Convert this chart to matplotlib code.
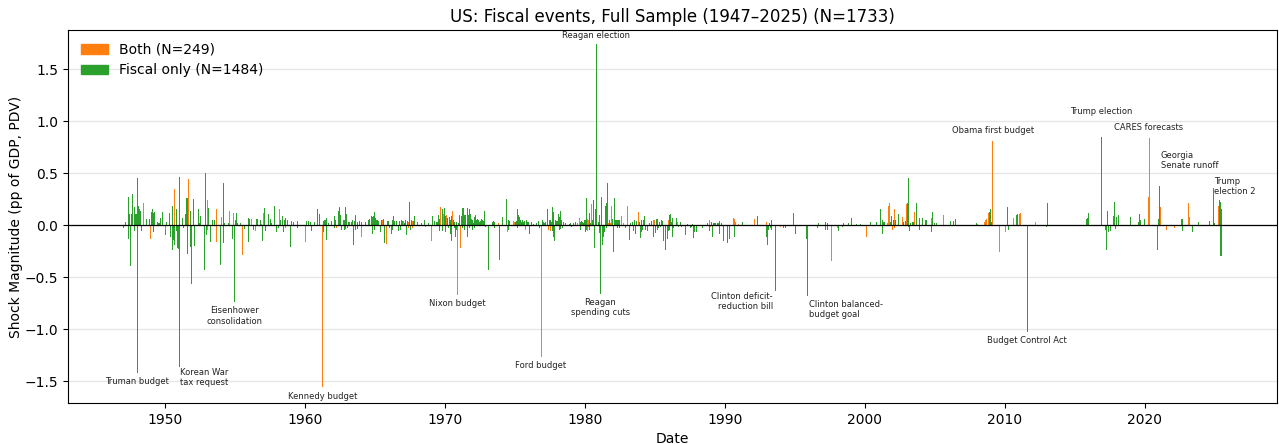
import matplotlib
matplotlib.use("Agg")
import matplotlib.pyplot as plt
from matplotlib.patches import Patch
from matplotlib.ticker import MultipleLocator
import numpy as np

# ---------------------------------------------------------------------------
# Fiscal shock events (decimal year, magnitude in pp of GDP, PDV)
# ---------------------------------------------------------------------------
fiscal_dates = [
    1947.02, 1947.21, 1947.38, 1947.40, 1947.45, 1947.52, 1947.60, 1947.67, 1947.81, 1947.83,
    1947.90, 1947.98, 1948.02, 1948.03, 1948.09, 1948.17, 1948.26, 1948.33, 1948.71, 1948.86,
    1949.02, 1949.12, 1949.19, 1949.21, 1949.26, 1949.45, 1949.57, 1949.71, 1949.81, 1950.02,
    1950.14, 1950.29, 1950.40, 1950.52, 1950.55, 1950.60, 1950.71, 1950.81, 1950.83, 1950.88,
    1950.95, 1951.02, 1951.05, 1951.24, 1951.31, 1951.45, 1951.57, 1951.60, 1951.64, 1951.79,
    1951.81, 1951.88, 1952.02, 1952.10, 1952.38, 1952.45, 1952.52, 1952.81, 1952.88, 1952.95,
    1953.10, 1953.24, 1953.38, 1953.52, 1953.95, 1954.17, 1954.19, 1954.26, 1954.52, 1954.81,
    1954.95, 1955.07, 1955.12, 1955.17, 1955.38, 1955.71, 1955.95, 1955.97, 1956.07, 1956.19,
    1956.31, 1956.50, 1956.60, 1956.79, 1956.98, 1957.12, 1957.21, 1957.38, 1957.50, 1957.62,
    1957.82, 1957.93, 1958.10, 1958.24, 1958.38, 1958.45, 1958.57, 1958.64, 1958.76, 1958.95,
    1959.02, 1959.17, 1959.45, 1959.48, 1960.12, 1960.24, 1960.38, 1960.45, 1960.67, 1960.88,
    1961.02, 1961.31, 1961.33, 1961.38, 1961.45, 1961.52, 1961.55, 1961.67, 1961.88, 1962.10,
    1962.12, 1962.17, 1962.38, 1962.45, 1962.52, 1962.60, 1962.74, 1962.81, 1962.83, 1962.88,
    1962.90, 1962.95, 1963.02, 1963.10, 1963.17, 1963.31, 1963.38, 1963.45, 1963.52, 1963.60,
    1963.62, 1963.74, 1963.76, 1963.86, 1964.07, 1964.29, 1964.57, 1964.64, 1964.74, 1964.81,
    1964.83, 1964.88, 1964.95, 1964.98, 1965.02, 1965.10, 1965.17, 1965.24, 1965.38, 1965.45,
    1965.60, 1965.67, 1965.88, 1965.95, 1966.02, 1966.17, 1966.24, 1966.26, 1966.31, 1966.38,
    1966.52, 1966.67, 1966.74, 1966.81, 1966.88, 1966.95, 1967.10, 1967.17, 1967.24, 1967.31,
    1967.45, 1967.52, 1967.60, 1967.74, 1967.81, 1968.02, 1968.31, 1968.52, 1968.81, 1969.10,
    1969.24, 1969.38, 1969.45, 1969.57, 1969.60, 1969.64, 1969.79, 1969.81, 1969.93, 1970.00,
    1970.07, 1970.21, 1970.24, 1970.29, 1970.36, 1970.38, 1970.43, 1970.45, 1970.57, 1970.64,
    1970.67, 1970.71, 1970.74, 1970.79, 1970.81, 1970.95, 1971.02, 1971.17, 1971.24, 1971.26,
    1971.31, 1971.38, 1971.40, 1971.45, 1971.60, 1971.62, 1971.67, 1971.74, 1971.76, 1971.81,
    1971.88, 1971.95, 1971.98, 1972.02, 1972.10, 1972.12, 1972.17, 1972.24, 1972.31, 1972.38,
    1972.45, 1972.52, 1972.60, 1972.67, 1972.74, 1972.81, 1972.88, 1973.10, 1973.36, 1973.43,
    1973.50, 1973.52, 1973.88, 1974.10, 1974.38, 1974.52, 1974.55, 1974.60, 1975.02, 1975.10,
    1975.17, 1975.19, 1975.24, 1975.31, 1975.38, 1975.45, 1975.52, 1975.60, 1975.67, 1975.81,
    1975.88, 1975.95, 1976.02, 1976.17, 1976.31, 1976.52, 1976.67, 1976.74, 1976.95, 1977.02,
    1977.10, 1977.17, 1977.31, 1977.45, 1977.52, 1977.60, 1977.67, 1977.69, 1977.74, 1977.76,
    1977.81, 1977.88, 1977.95, 1978.02, 1978.10, 1978.17, 1978.19, 1978.24, 1978.26, 1978.31,
    1978.38, 1978.45, 1978.60, 1978.88, 1978.95, 1979.02, 1979.17, 1979.31, 1979.67, 1979.69,
    1979.74, 1979.81, 1979.88, 1979.95, 1980.02, 1980.05, 1980.10, 1980.12, 1980.31, 1980.33,
    1980.38, 1980.52, 1980.60, 1980.67, 1980.74, 1980.82, 1980.95, 1981.02, 1981.05, 1981.10,
    1981.17, 1981.24, 1981.31, 1981.38, 1981.45, 1981.52, 1981.55, 1981.60, 1981.74, 1981.95,
    1982.02, 1982.10, 1982.17, 1982.24, 1982.31, 1982.33, 1982.38, 1982.45, 1982.47, 1982.86,
    1983.17, 1983.24, 1983.38, 1983.45, 1983.52, 1983.60, 1983.67, 1983.88, 1983.95, 1984.02,
    1984.05, 1984.10, 1984.17, 1984.24, 1984.31, 1984.45, 1984.60, 1984.74, 1984.88, 1984.90,
    1985.02, 1985.10, 1985.17, 1985.19, 1985.24, 1985.31, 1985.38, 1985.45, 1985.52, 1985.60,
    1985.74, 1985.88, 1985.98, 1986.02, 1986.05, 1986.10, 1986.17, 1986.24, 1986.26, 1986.31,
    1986.52, 1986.67, 1986.81, 1986.88, 1987.17, 1987.31, 1987.52, 1987.60, 1987.67, 1987.74,
    1987.81, 1987.95, 1988.38, 1988.74, 1988.90, 1989.02, 1989.10, 1989.17, 1989.24, 1989.31,
    1989.45, 1989.52, 1989.60, 1989.62, 1989.74, 1989.88, 1990.17, 1990.31, 1990.67, 1990.69,
    1991.24, 1992.31, 1992.98, 1993.02, 1993.10, 1993.17, 1993.24, 1993.31, 1993.33, 1993.62,
    1994.17, 1994.31, 1994.88, 1995.02, 1995.81, 1995.83, 1995.88, 1996.60, 1996.67, 1997.17,
    1997.19, 1997.31, 1997.33, 1998.10, 1998.38, 1998.45, 1998.81, 1999.02, 1999.38, 1999.67,
    2000.38, 2000.81, 2001.10, 2001.24, 2001.26, 2001.31, 2001.38, 2001.81, 2001.88, 2002.02,
    2002.17, 2002.38, 2002.74, 2002.88, 2003.02, 2003.10, 2003.12, 2003.17, 2003.24, 2003.38,
    2003.45, 2003.67, 2003.88, 2003.90, 2004.10, 2004.31, 2004.38, 2004.76, 2004.81, 2004.95,
    2005.10, 2006.10, 2006.31, 2006.45, 2008.00, 2008.86, 2008.95, 2009.02, 2010.17, 2010.24,
    2010.81, 2010.90, 2011.59, 2012.95, 2013.02, 2015.81, 2015.88, 2015.95, 2016.86, 2017.17,
    2017.24, 2017.31, 2017.38, 2017.52, 2017.74, 2017.81, 2017.88, 2017.95, 2018.10, 2018.95,
    2019.52, 2019.60, 2019.67, 2019.95, 2020.88, 2020.95, 2021.02, 2022.60, 2022.67, 2022.69,
    2023.38, 2023.60, 2023.81, 2024.60, 2024.86, 2024.95, 2025.31, 2025.38, 2025.43, 2025.50,
]
fiscal_values = [
    -0.03, 0.03, 0.27, -0.13, 0.11, -0.39, 0.11, 0.30, 0.17, -0.06,
    0.11, 0.11, 0.45, -1.42, 0.18, 0.15, 0.14, -0.06, 0.06, 0.06,
    0.13, 0.15, 0.12, -0.07, 0.13, 0.03, 0.02, 0.07, 0.13, -0.10,
    0.03, 0.12, -0.11, 0.18, -0.24, -0.14, -0.19, 0.15, -0.06, -0.22,
    -0.23, 0.46, -1.36, 0.07, -0.03, 0.11, 0.26, -0.27, -0.28, 0.14,
    -0.21, -0.57, 0.25, -0.20, 0.15, 0.02, 0.09, -0.43, 0.50, -0.10,
    0.16, -0.16, 0.05, 0.05, -0.38, 0.40, -0.17, 0.02, 0.02, -0.13,
    -0.74, 0.05, 0.12, 0.02, 0.02, -0.04, 0.07, -0.16, 0.06, 0.06,
    -0.05, 0.06, 0.06, 0.05, -0.15, 0.16, -0.06, 0.11, 0.06, 0.02,
    0.18, -0.07, -0.03, 0.05, 0.09, -0.07, 0.05, 0.07, 0.05, -0.21,
    0.04, 0.03, 0.04, -0.03, 0.04, 0.04, 0.03, -0.06, 0.03, 0.15,
    0.11, 0.04, -0.07, 0.05, 0.05, 0.07, -0.14, 0.02, 0.04, 0.09,
    -0.03, 0.05, 0.14, 0.17, 0.10, -0.05, 0.05, 0.05, -0.05, 0.17,
    -0.04, 0.11, -0.03, 0.03, 0.03, 0.03, 0.05, -0.19, 0.04, 0.10,
    -0.05, 0.03, -0.04, 0.04, 0.03, 0.03, 0.05, 0.06, 0.09, 0.08,
    -0.09, 0.09, 0.13, -0.05, 0.07, 0.05, 0.05, 0.04, -0.07, 0.05,
    0.06, -0.17, 0.04, 0.04, -0.03, -0.09, 0.05, -0.05, 0.09, 0.04,
    0.04, -0.06, 0.04, -0.05, 0.05, 0.04, 0.02, 0.05, -0.10, 0.04,
    0.22, -0.05, 0.05, 0.04, 0.09, 0.03, 0.02, 0.05, 0.02, 0.09,
    0.04, 0.03, 0.03, 0.10, -0.06, 0.06, 0.15, -0.06, 0.16, 0.09,
    -0.07, 0.07, -0.03, 0.08, 0.05, -0.09, 0.09, -0.15, 0.05, 0.05,
    -0.03, 0.03, -0.11, 0.03, -0.05, 0.02, 0.10, 0.09, 0.16, -0.03,
    0.16, 0.10, -0.05, 0.10, 0.16, -0.11, 0.10, 0.15, -0.03, 0.11,
    0.06, 0.05, -0.05, 0.02, 0.08, -0.03, 0.10, 0.05, 0.06, 0.05,
    0.03, 0.04, 0.06, 0.05, 0.04, 0.14, -0.02, -0.43, 0.03, 0.04,
    0.03, -0.03, -0.34, 0.08, 0.25, 0.05, -0.05, 0.04, 0.03, 0.04,
    0.15, -0.03, 0.10, 0.08, 0.05, 0.03, 0.05, 0.03, 0.04, 0.05,
    0.03, 0.03, -0.09, 0.03, 0.01, 0.02, 0.04, -0.03, 0.05, 0.03,
    0.02, 0.03, 0.15, 0.05, 0.05, 0.03, 0.17, -0.06, 0.13, -0.11,
    -0.15, 0.05, 0.04, 0.04, 0.11, 0.08, -0.05, 0.14, -0.04, 0.05,
    -0.03, 0.03, 0.02, 0.01, 0.02, -0.02, 0.02, 0.03, 0.03, -0.05,
    0.04, 0.03, 0.02, 0.05, 0.05, -0.07, 0.26, -0.05, 0.12, -0.05,
    0.02, 0.05, 0.24, -0.22, 0.15, 1.74, 0.03, 0.10, -0.08, -0.66,
    0.27, -0.19, -0.11, -0.07, 0.18, 0.21, -0.03, 0.40, 0.05, 0.06,
    -0.26, 0.26, 0.05, 0.05, 0.05, -0.03, 0.05, 0.05, -0.03, -0.03,
    -0.14, 0.02, 0.03, -0.06, 0.05, -0.09, 0.04, 0.03, -0.12, 0.05,
    -0.07, -0.05, 0.05, 0.09, -0.05, -0.06, 0.02, 0.04, 0.05, -0.11,
    -0.08, 0.06, 0.06, -0.05, -0.03, 0.03, -0.02, 0.05, 0.04, -0.15,
    -0.24, -0.13, -0.06, 0.10, -0.05, 0.11, 0.03, 0.07, -0.11, -0.03,
    0.07, -0.02, 0.03, -0.02, -0.10, 0.01, -0.03, -0.02, 0.01, -0.12,
    -0.07, -0.07, -0.03, 0.02, -0.06, 0.03, -0.11, 0.02, 0.02, 0.02,
    0.02, 0.02, 0.04, -0.09, 0.02, -0.15, -0.17, -0.13, 0.03, -0.11,
    0.03, 0.09, -0.11, -0.19, -0.05, 0.02, -0.03, 0.05, -0.05, -0.63,
    -0.03, -0.03, 0.12, -0.09, -0.13, -0.13, -0.68, -0.03, 0.02, 0.03,
    -0.05, 0.02, -0.05, -0.06, -0.02, 0.02, 0.02, 0.07, 0.01, 0.01,
    0.03, 0.03, 0.15, 0.05, -0.09, 0.03, 0.03, 0.03, 0.09, 0.05,
    0.05, 0.11, 0.03, 0.04, 0.21, 0.45, -0.02, -0.06, 0.02, 0.03,
    0.03, 0.21, 0.07, -0.05, 0.07, 0.05, 0.05, -0.07, 0.13, 0.02,
    0.02, 0.04, 0.04, 0.06, 0.02, 0.13, 0.15, 0.03, 0.17, -0.05,
    0.10, 0.11, -1.03, -0.02, 0.21, 0.06, 0.07, 0.12, 0.85, -0.05,
    -0.24, 0.14, -0.07, -0.06, 0.09, 0.22, -0.04, 0.08, 0.10, 0.08,
    0.03, 0.11, 0.05, 0.06, -0.24, 0.06, 0.38, 0.06, 0.06, -0.06,
    -0.07, -0.01, 0.03, 0.04, 0.36, 0.02, 0.24, 0.22, -0.30, 0.15,
]

both_dates = [
    1948.48, 1948.98, 1950.00, 1950.67, 1951.71, 1953.02, 1953.05, 1953.67, 1953.69, 1954.05,
    1954.60, 1954.88, 1955.52, 1956.21, 1956.45, 1956.90, 1957.07, 1958.17, 1958.64, 1960.02,
    1960.38, 1961.24, 1962.24, 1964.02, 1965.52, 1965.81, 1967.02, 1967.38, 1967.40, 1967.67,
    1967.69, 1968.60, 1969.02, 1969.71, 1969.86, 1970.14, 1970.50, 1970.86, 1971.10, 1973.81,
    1974.45, 1974.88, 1974.95, 1975.74, 1976.86, 1977.38, 1977.52, 1979.45, 1979.60, 1980.17,
    1980.19, 1980.24, 1980.26, 1980.45, 1981.67, 1981.81, 1981.88, 1982.60, 1982.74, 1983.02,
    1983.81, 1984.88, 1984.95, 1985.95, 1986.60, 1988.88, 1988.95, 1990.60, 1990.67, 1990.74,
    1990.95, 1992.10, 1992.95, 1993.93, 1997.64, 1998.02, 2000.10, 2001.60, 2001.67, 2001.74,
    2001.95, 2002.10, 2002.12, 2002.67, 2002.95, 2003.52, 2004.74, 2005.60, 2008.07, 2008.57,
    2008.64, 2008.71, 2008.79, 2009.14, 2009.60, 2010.07, 2010.60, 2011.02, 2011.10, 2012.15,
    2020.24, 2020.29, 2021.10, 2021.52, 2022.10, 2023.10, 2023.21, 2024.10, 2025.24,
]
both_values = [
    0.21, -0.13, -0.05, 0.35, 0.44, 0.24, -0.05, 0.15, -0.16, 0.08,
    0.14, 0.12, -0.29, 0.06, -0.06, 0.01, 0.12, 0.15, -0.03, -0.16,
    -0.01, -1.56, -0.03, -0.11, 0.05, -0.18, 0.04, 0.03, -0.03, 0.04,
    -0.03, -0.02, -0.15, 0.17, 0.11, 0.10, 0.14, -0.67, -0.22, 0.02,
    -0.07, 0.04, 0.03, -0.05, -1.27, -0.05, -0.06, 0.02, 0.07, 0.06,
    -0.06, 0.05, -0.02, 0.20, 0.02, 0.02, 0.18, 0.09, 0.02, 0.18,
    0.13, 0.05, 0.05, 0.05, 0.03, 0.05, -0.02, 0.07, 0.06, 0.03,
    0.01, 0.06, 0.03, -0.02, -0.35, -0.03, -0.11, 0.02, 0.18, 0.21,
    -0.05, 0.15, -0.03, 0.08, 0.20, 0.13, 0.07, 0.10, 0.01, 0.03,
    0.05, 0.06, 0.12, 0.81, -0.26, -0.07, 0.07, 0.11, 0.12, 0.03,
    0.27, 0.84, 0.17, -0.05, -0.03, 0.21, 0.08, -0.01, 0.18,
]

# Labelled events: (text, series, date, x offset pt, y offset pt, ha, va)
event_labels = [
    ("Truman budget", "fiscal", 1948.03, 0, -3, "center", "top"),
    ("Korean War\ntax request", "fiscal", 1951.05, 0, -1, "left", "top"),
    ("Eisenhower\nconsolidation", "fiscal", 1954.95, 0, -3, "center", "top"),
    ("Kennedy budget", "both", 1961.24, 0, -3, "center", "top"),
    ("Nixon budget", "both", 1970.86, 0, -3, "center", "top"),
    ("Ford budget", "both", 1976.86, 0, -3, "center", "top"),
    ("Reagan election", "fiscal", 1980.82, 0, 3, "center", "bottom"),
    ("Reagan\nspending cuts", "fiscal", 1981.10, 0, -3, "center", "top"),
    ("Clinton deficit-\nreduction bill", "fiscal", 1993.62, -2, -1, "right", "top"),
    ("Clinton balanced-\nbudget goal", "fiscal", 1995.88, 1, -3, "left", "top"),
    ("Obama first budget", "both", 2009.14, 0, 4, "center", "bottom"),
    ("Budget Control Act", "fiscal", 2011.59, 0, -3, "center", "top"),
    ("Trump election", "fiscal", 2016.86, 0, 15, "center", "bottom"),
    ("CARES forecasts", "both", 2020.29, 0, 4, "center", "bottom"),
    ("Georgia\nSenate runoff", "fiscal", 2021.02, 1, 11, "left", "bottom"),
    ("Trump\nelection 2", "fiscal", 2024.86, 1, 1, "left", "center"),
]

title = "US: Fiscal events, Full Sample (1947\u20132025) (N=1733)"
both_label = "Both (N=249)"
fiscal_label = "Fiscal only (N=1484)"

GREEN = "#2ca02c"
ORANGE = "#ff7f0e"

fig = plt.figure(figsize=(12.79, 4.44), dpi=100)
ax = fig.add_axes([68 / 1279, 1 - 403 / 444, (1277 - 68) / 1279, (403 - 30) / 444])

bar_w = 0.072
ax.bar(fiscal_dates, fiscal_values, width=bar_w, color=GREEN, linewidth=0, zorder=2)
ax.bar(both_dates, both_values, width=bar_w, color=ORANGE, linewidth=0, zorder=3)

ax.axhline(0, color="black", linewidth=0.9, zorder=4)
ax.grid(axis="y", color="#e6e6e6", linewidth=0.9, zorder=0)
ax.set_axisbelow(True)

series = {
    "fiscal": (np.array(fiscal_dates), np.array(fiscal_values)),
    "both": (np.array(both_dates), np.array(both_values)),
}
for text, key, date, dx, dy, ha, va in event_labels:
    d, v = series[key]
    i = int(np.argmin(np.abs(d - date)))
    ax.annotate(text, xy=(d[i], v[i]), xytext=(dx, dy), textcoords="offset points",
                ha=ha, va=va, fontsize=6, color="#222222", zorder=5)

ax.set_xlim(1943.07, 2029.43)
ax.set_ylim(-1.71, 1.875)
ax.xaxis.set_major_locator(MultipleLocator(10))
ax.yaxis.set_major_locator(MultipleLocator(0.5))

ax.set_title(title, fontsize=12)
ax.set_xlabel("Date", fontsize=10)
ax.set_ylabel("Shock Magnitude (pp of GDP, PDV)", fontsize=10, labelpad=1.5)

handles = [Patch(color=ORANGE, label=both_label), Patch(color=GREEN, label=fiscal_label)]
ax.legend(handles=handles, loc="upper left", frameon=False, fontsize=10)

fig.savefig("out.png", dpi=100)
